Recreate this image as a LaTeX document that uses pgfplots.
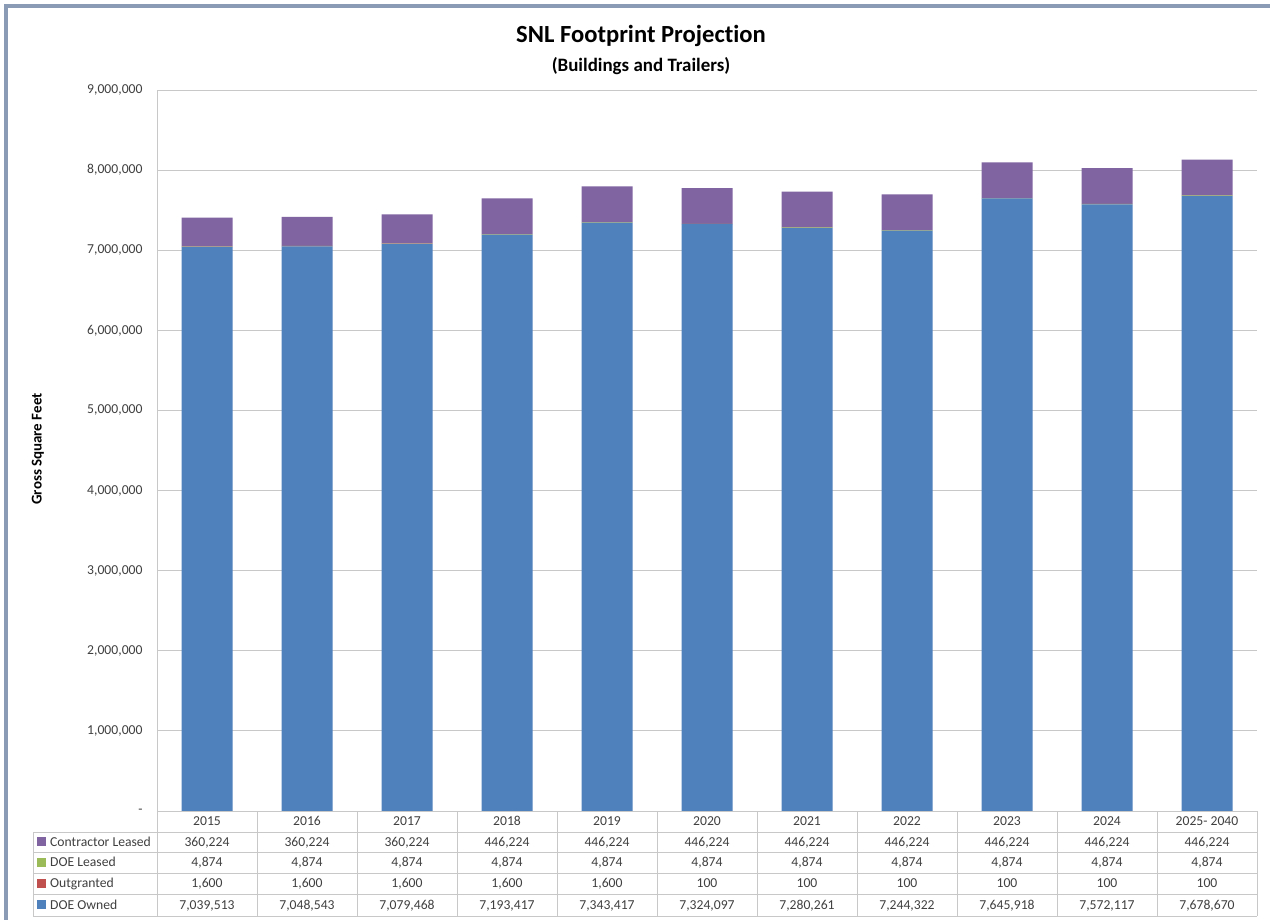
\documentclass[border=0pt]{standalone}
\usepackage{fontspec}
\setmainfont{Carlito}[Ligatures={NoCommon,NoRequired,NoContextual}]
\usepackage{pgfplots}
\pgfplotsset{compat=1.18}
\usepackage{pgfplotstable}
\definecolor{owned}{HTML}{4F81BD}
\definecolor{outg}{HTML}{C0504D}
\definecolor{dleased}{HTML}{9BBB59}
\definecolor{cleased}{HTML}{8064A2}
\definecolor{txt}{HTML}{404040}
\definecolor{gridc}{HTML}{C8C8C8}
\definecolor{framec}{HTML}{8A9BB5}

\pgfplotstableread[col sep=comma]{
year,owned,outgranted,doeleased,contractor
2015,7039513,1600,4874,360224
2016,7048543,1600,4874,360224
2017,7079468,1600,4874,360224
2018,7193417,1600,4874,446224
2019,7343417,1600,4874,446224
2020,7324097,100,4874,446224
2021,7280261,100,4874,446224
2022,7244322,100,4874,446224
2023,7645918,100,4874,446224
2024,7572117,100,4874,446224
2025- 2040,7678670,100,4874,446224
}\data

\pgfkeys{/pgf/number format/.cd,fixed,precision=0,1000 sep={,},assume math mode=true}

\begin{document}
\begin{tikzpicture}[x=1bp,y=1bp,
  cell/.style={font=\fontsize{13.7}{16}\selectfont, text=txt, anchor=base, inner sep=0pt}]
\useasboundingbox[fill=white] (0,0) rectangle (1270,920);
\draw[framec,line width=4bp] (6,0) -- (6,914) -- (1270,914);

\node[font=\bfseries\fontsize{24.7}{28}\selectfont, anchor=base, inner sep=0pt] at (641,877) {SNL Footprint Projection};
\node[font=\bfseries\fontsize{19}{22}\selectfont, anchor=base, inner sep=0pt] at (641,848) {(Buildings and Trailers)};
\node[rotate=90, font=\bfseries\fontsize{15}{17}\selectfont, inner sep=0pt] at (38,471) {Gross Square Feet};

\begin{axis}[at={(157bp,109bp)}, anchor=south west, scale only axis,
  width=1100bp, height=721bp,
  ybar stacked, bar width=51bp,
  xmin=-0.5, xmax=10.5, ymin=0, ymax=9000000,
  xtick=\empty,
  ytick={0,1000000,2000000,3000000,4000000,5000000,6000000,7000000,8000000,9000000},
  yticklabels={{-\hspace{7bp}},{1,000,000},{2,000,000},{3,000,000},{4,000,000},{5,000,000},{6,000,000},{7,000,000},{8,000,000},{9,000,000}},
  scaled y ticks=false,
  ymajorgrids, grid style={gridc, line width=0.8bp},
  axis x line*=bottom, axis y line*=left,
  axis line style={-, gridc, line width=0.8bp},
  major tick length=0pt,
  yticklabel style={font=\fontsize{13.7}{16}\selectfont, text=txt, xshift=-11bp},
  clip=false,
]
\addplot[fill=owned, draw=none] table[x expr=\coordindex, y=owned]{\data};
\addplot[fill=outg, draw=none] table[x expr=\coordindex, y=outgranted]{\data};
\addplot[fill=dleased, draw=none] table[x expr=\coordindex, y=doeleased]{\data};
\addplot[fill=cleased, draw=none] table[x expr=\coordindex, y=contractor]{\data};
\end{axis}

% data table
\foreach \k in {0,...,11} \draw[gridc, line width=0.8bp] ({157+100*\k},4) -- ({157+100*\k},109);
\draw[gridc, line width=0.8bp] (157,109) -- (1257,109);
\foreach \yy in {88,68,47,26,4} \draw[gridc, line width=0.8bp] (33,\yy) -- (1257,\yy);
\draw[gridc, line width=0.8bp] (33,4) -- (33,88);

\foreach \i in {0,...,10} {
  \pgfplotstablegetelem{\i}{year}\of\data
  \node[cell] at ({207+100*\i},94) {\pgfplotsretval};
  \pgfplotstablegetelem{\i}{contractor}\of\data
  \node[cell] at ({207+100*\i},73.6) {\pgfmathprintnumber{\pgfplotsretval}};
  \pgfplotstablegetelem{\i}{doeleased}\of\data
  \node[cell] at ({207+100*\i},53) {\pgfmathprintnumber{\pgfplotsretval}};
  \pgfplotstablegetelem{\i}{outgranted}\of\data
  \node[cell] at ({207+100*\i},32) {\pgfmathprintnumber{\pgfplotsretval}};
  \pgfplotstablegetelem{\i}{owned}\of\data
  \node[cell] at ({207+100*\i},10.6) {\pgfmathprintnumber{\pgfplotsretval}};
}
% row labels with legend squares
\fill[cleased] (37,73.5) rectangle (46,82.5);
\node[cell, anchor=base west] at (50,73.6) {Contractor Leased};
\fill[dleased] (37,53) rectangle (46,62);
\node[cell, anchor=base west] at (50,53) {DOE Leased};
\fill[outg] (37,32) rectangle (46,41);
\node[cell, anchor=base west] at (50,32) {Outgranted};
\fill[owned] (37,10.5) rectangle (46,19.5);
\node[cell, anchor=base west] at (50,10.6) {DOE Owned};
\end{tikzpicture}
\end{document}
